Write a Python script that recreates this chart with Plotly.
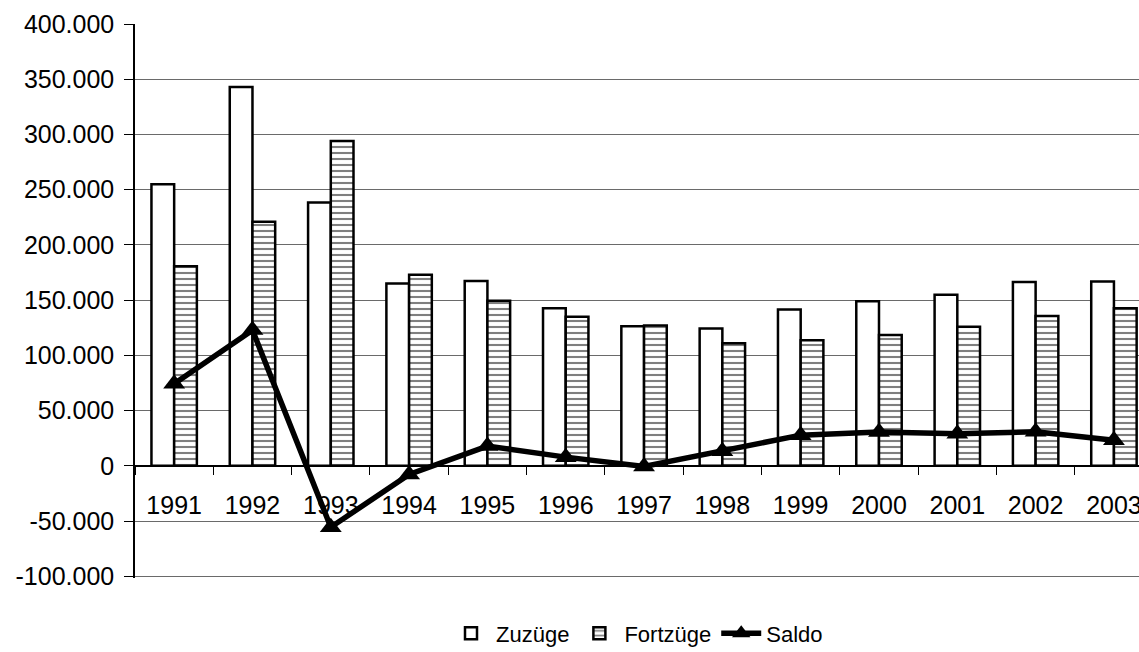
import plotly.graph_objects as go

# Wanderungen: Zuzüge, Fortzüge und Saldo je Jahr
jahre = ["1991", "1992", "1993", "1994", "1995", "1996", "1997",
         "1998", "1999", "2000", "2001", "2002", "2003"]
zuzuege = [255000, 343000, 238500, 165200, 167300, 142800, 126500,
           124400, 141600, 149100, 154900, 166400, 167000]
fortzuege = [180800, 221000, 294000, 173000, 149400, 134900, 127100,
             111100, 113800, 118400, 125900, 135600, 142800]
saldo = [74300, 122900, -55500, -7800, 17900, 7900, -600,
         13300, 27800, 30700, 29000, 30800, 23200]

y_ticks = [-100000, -50000, 0, 50000, 100000, 150000, 200000, 250000,
           300000, 350000, 400000]
y_tick_text = ["-100.000", "-50.000", "0", "50.000", "100.000", "150.000",
               "200.000", "250.000", "300.000", "350.000", "400.000"]

FONT = "Arial, Liberation Sans, sans-serif"
x_range = [-0.5, 12.32]
y_range = [-101500, 400000]
# paper position of the zero line (category axis crosses there)
null_pos = (0 - y_range[0]) / (y_range[1] - y_range[0])
grenzen = [i + 0.5 for i in range(len(jahre) - 1)]

fig = go.Figure()

fig.add_trace(go.Bar(
    name="Zuzüge", x=jahre, y=zuzuege,
    marker=dict(color="white", line=dict(color="black", width=2.5)),
))
fig.add_trace(go.Bar(
    name="Fortzüge", x=jahre, y=fortzuege,
    marker=dict(color="white", line=dict(color="black", width=2.5),
                pattern=dict(shape="-", size=6, solidity=0.35,
                             fgcolor="black", bgcolor="white")),
))
fig.add_trace(go.Scatter(
    name="Saldo", x=jahre, y=saldo, mode="lines+markers",
    line=dict(color="black", width=5.5),
    marker=dict(symbol="triangle-up", size=19, color="black"),
))

fig.update_layout(
    width=1139, height=652,
    margin=dict(l=135, r=0, t=24, b=74, autoexpand=False),
    paper_bgcolor="white", plot_bgcolor="white",
    font=dict(family=FONT, size=25, color="black"),
    barmode="group", bargap=0.42, bargroupgap=0,
    xaxis=dict(
        type="category", range=x_range, anchor="free", position=null_pos,
        showline=False, showgrid=False, zeroline=False,
        ticks="outside", tickson="boundaries", ticklen=8, tickwidth=1,
        tickcolor="black", ticklabelstandoff=22,
        tickfont=dict(family=FONT, size=25),
    ),
    xaxis2=dict(
        overlaying="x", range=x_range, anchor="free", position=null_pos,
        showline=False, showgrid=False, zeroline=False,
        tickmode="array", tickvals=grenzen, showticklabels=False,
        ticks="inside", ticklen=8, tickwidth=1, tickcolor="black",
    ),
    yaxis=dict(
        range=y_range, tickmode="array", tickvals=y_ticks,
        ticktext=y_tick_text, showgrid=True, gridcolor="#6a6a6a", gridwidth=1,
        zeroline=True, zerolinecolor="black", zerolinewidth=1.5,
        showline=True, linecolor="black", linewidth=1.5,
        ticks="outside", ticklen=9, tickcolor="black", ticklabelstandoff=5,
        tickfont=dict(family=FONT, size=25),
    ),
    legend=dict(
        orientation="h", x=0.5, xanchor="center", y=-0.1, yanchor="middle",
        font=dict(family=FONT, size=22), itemwidth=40,
        traceorder="normal", bgcolor="rgba(0,0,0,0)",
    ),
)

fig.write_html("out.html")
